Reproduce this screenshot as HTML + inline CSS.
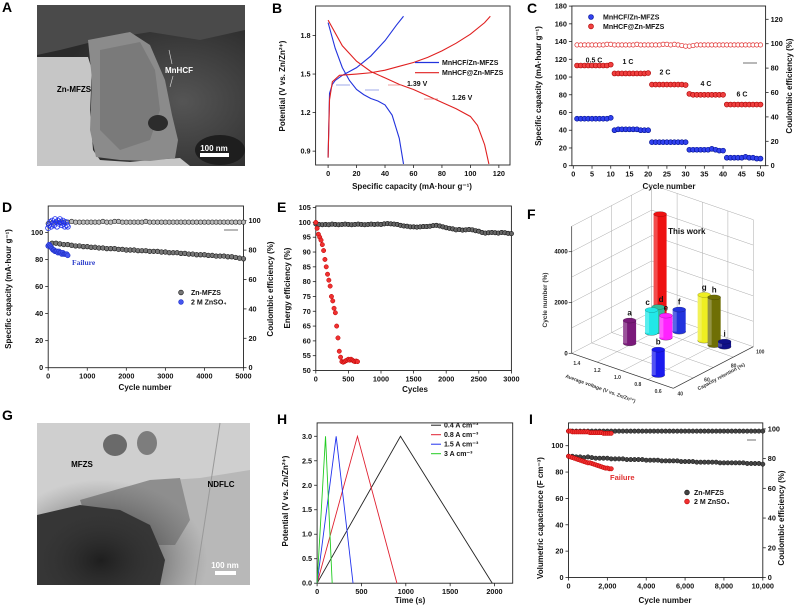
<!DOCTYPE html>
<html><head><meta charset="utf-8"><style>
html,body{margin:0;padding:0;background:#fff;}
svg{display:block;font-family:"Liberation Sans",Arial,sans-serif;}
text{font-weight:bold;}
</style></head><body>
<svg id="fig" width="797" height="608" viewBox="0 0 797 608" xmlns="http://www.w3.org/2000/svg">
<defs>
<radialGradient id="gA" cx="0.7" cy="0.6" r="0.6"><stop offset="0" stop-color="#555"/><stop offset="1" stop-color="#2a2a2a"/></radialGradient>
<radialGradient id="gG" cx="0.3" cy="0.85" r="0.5"><stop offset="0" stop-color="#1e1e1e"/><stop offset="1" stop-color="#555" stop-opacity="0"/></radialGradient>
</defs>
</svg>
<script>
// ---------- data ----------
const bCap = [0,1,3,5,10,15,20,30,40,48,53];
const bBlueCh = [0.85,1.35,1.42,1.45,1.49,1.52,1.55,1.64,1.76,1.88,1.95];
const bDisCap = [0,5,10,15,20,25,30,35,40,45,50,53];
const bBlueDis = [1.9,1.7,1.55,1.45,1.38,1.34,1.31,1.29,1.26,1.18,1.0,0.8];
const bRedChCap = [0,1,3,8,20,30,40,50,60,70,80,90,100,110,114];
const bRedCh = [0.85,1.3,1.44,1.49,1.5,1.51,1.53,1.56,1.59,1.63,1.68,1.74,1.81,1.9,1.95];
const bRedDisCap = [0,10,20,30,40,50,60,70,80,90,100,105,110,113];
const bRedDis = [1.92,1.72,1.6,1.52,1.47,1.42,1.38,1.33,1.28,1.23,1.17,1.1,0.95,0.8];

const cRed = [113,113,113,113,113,113,113,113,113,114,104,104,104,104,104,104,104,104,104,104.5,91.5,91.5,91.5,91.5,91.5,91.5,91.5,91.5,91.5,91,81,80,80,80,80,80,80,80,80,80,69,69,69,69,69,69,69,69,69,69];
const cBlue = [53,53,53,53,53,53,53,53,53,54,40,41,41,41,41,41,41,40,40,40,26.5,26.5,26.5,26.5,26.5,26.5,26.5,26.5,26.5,26.5,18,18,18,18,18,18,19,18,17,17,9,9,9,9,9,10,9,9,8,8];
const cCE = [99,99,99,99,99,99,99,99,99.5,99.5,99,99,99,99,99,99,99.5,99,99,99,99,99,99,99.5,99.5,99,99.5,99,98.5,98,98,98.5,99,99,99,99,99,99,99,99,99,99,99,99,99,99,99,99,99,99];
const cRates = ['0.5 C','1 C','2 C','4 C','6 C'];

const dCap = [90,92,92,91.5,91,91,90.5,90,90,89.5,89.5,89,89,88.5,88.5,88,88,88,87.5,87.5,87,87,87,86.5,86.5,86.5,86,86,86,85.5,85.5,85,85,85,84.5,84.5,84,84,83.5,83.5,83.5,83,83,82.5,82.5,82.5,82,82,81.5,81,80.5];
const dCE = [98,98.5,99,99,99,99,99.5,99,99,99,99,99,99,99,99.5,99,99,99.5,99.5,99,99,99,99,99,99,99.5,99,99,99,99,99,99,99,99,99,99,99,99,99,99,99,99,99,99,99,99,99,99,99,99,99];
const dBlueCap = [90,91,90,89,88,87,87,86,86,86,85,86,85,85,84,85,84,84,84,84,83];
const dBlueCE = [95,97,99,96,100,98,97,101,99,96,100,98,101,99,97,100,98,96,99,97,96];

const eBlack = [99.5,99.3,99.2,99.3,99.2,99.4,99.3,99.2,99.3,99.4,99.3,99.2,99.3,99.4,99.3,99.2,99.3,99.4,99.3,99.4,99.3,99.5,99.6,99.5,99.4,99.3,99.0,98.8,98.7,98.5,98.5,98.4,98.5,98.6,98.6,98.7,98.9,99.0,98.8,98.5,98.2,98.0,97.8,97.5,97.6,97.4,97.5,97.6,97.5,97.2,97.0,96.6,96.4,96.5,96.6,96.5,96.4,96.6,96.5,96.3,96.2];
const eRedCyc = [0,20,40,60,80,100,120,140,160,180,200,220,240,260,280,300,320,340,360,380,400,420,440,460,480,500,520,540,560,580,600,620,640];
const eRed = [100,98,96,95,94,92.5,90.5,87.5,85,82.5,80.5,78.5,75,73.5,71,69.5,65,61,56.5,54.5,53,52.8,53,53.3,53.5,53.8,53.5,53.8,53.5,53.2,53,53.2,53];

const hLabels = ['0.4 A cm\u207B\u00B3','0.8 A cm\u207B\u00B3','1.5 A cm\u207B\u00B3','3 A cm\u207B\u00B3'];
const hPeak = [940,455,215,95];
const hEnd = [1975,900,405,170];
const hVmax = [3.0,3.0,3.0,3.0];

const iCap = [92,92,91.5,91.5,91,91.5,91,90.5,90.5,90.5,90.5,90,90,90,90,89.5,89.5,89.5,89.5,89.5,89,89,89,89,88.5,88.5,88.5,88.5,88.5,88,88,88,88,87.5,87.5,87.5,87.5,87.5,87.5,87,87,87,87,87,87,87,86.5,86.5,86.5,86.5,86];
const iCE = [98.5,98.5,98.5,98.5,98.5,98.5,98.5,98.5,98.5,98.5,98.5,98.5,98.5,98.5,98.5,98.5,98.5,98.5,98.5,98.5,98.5,98.5,98.5,98.5,98.5,98.5,98.5,98.5,98.5,98.5,98.5,98.5,98.5,98.5,98.5,98.5,98.5,98.5,98.5,98.5,98.5,98.5,98.5,98.5,98.5,98.5,98.5,98.5,98.5,98.5,98.5];
const iRedCap = [92,91.5,91,90.5,90,89.5,89,88.5,88,87.5,87,87,86.5,86,85.5,85,84.5,84,83.5,83,83,82.5,82.5];
const iRedCE = [98.5,98.5,98,98,98,98,98,98,98,98,98,97.5,97.5,97.5,97.5,97.5,97.5,97.5,97,97,97,97,97];

const fNames = ['a','b','c','d','This work','e','f','g','h','i'];
const fVoltage = [1.27,0.74,1.26,1.24,1.26,1.12,1.11,0.86,0.75,0.67];
const fRetention = [65.9,47,81.6,85,88,81.7,90.9,90.6,89.7,91.4];
const fCycles = [900,1000,900,950,4500,870,870,1800,1880,200];
const fColors = ['#7a1a7a','#1a1aee','#22e8e8','#33bb99','#ee1111','#ff22ff','#2233dd','#eeee22','#6f6f05','#111188'];

// ---------- helpers ----------
const NS='http://www.w3.org/2000/svg';
const svg=document.getElementById('fig');
function mk(tag,a,p){const e=document.createElementNS(NS,tag);for(const k in a)e.setAttribute(k,a[k]);(p||svg).appendChild(e);return e;}
function T(x,y,s,size,anchor,fill,rot){const e=mk('text',{x:x,y:y,'font-size':size,'text-anchor':anchor||'middle',fill:fill||'#111'});if(rot)e.setAttribute('transform','rotate('+rot+' '+x+' '+y+')');e.textContent=s;return e;}
function G(name){const g=mk('g',{});return g;}
function frame(g,x0,y0,x1,y1){const r=mk('rect',{x:x0,y:y0,width:x1-x0,height:y1-y0,fill:'none',stroke:'#222','stroke-width':0.9},g);}
function xTicks(g,sc,vals,labs,y1){vals.forEach((v,i)=>{mk('line',{x1:sc(v),x2:sc(v),y1:y1,y2:y1+3,stroke:'#222','stroke-width':0.8},g);const t=T(sc(v),y1+11,labs[i],7.3,'middle','#111');});}
function yTicks(g,sc,vals,labs,x,side){vals.forEach((v,i)=>{const d=side==='r'?1:-1;mk('line',{x1:x,x2:x+3*d,y1:sc(v),y2:sc(v),stroke:'#222','stroke-width':0.8},g);const t=T(x+5*d,sc(v)+2.5,labs[i],7.3,side==='r'?'start':'end','#111');});}
function poly(g,xs,ys,sx,sy,col,w){return mk('polyline',{points:xs.map((v,i)=>sx(v)+','+sy(ys[i])).join(' '),fill:'none',stroke:col,'stroke-width':w||1.1},g);}
function dot(g,x,y,r,fill,stroke,sw){return mk('circle',{cx:x,cy:y,r:r,fill:fill,stroke:stroke,'stroke-width':sw||0.6},g);}
function letter(s,x,y){const t=T(x,y,s,14,'start','#000');}
function rng(a,b,s){const r=[];for(let v=a;v<=b+1e-9;v+=s)r.push(+v.toFixed(4));return r;}

// ---------- Panel A (TEM) ----------
(function(){const g=G('panel-a-tem-image');
mk('rect',{x:37,y:5,width:208,height:161,fill:'url(#gA)'},g);
mk('polygon',{points:'37,5 245,5 245,30 200,40 150,32 100,40 60,50 37,55',fill:'#4a4a4a'},g);
mk('polygon',{points:'37,57 88,57 92,70 90,110 93,150 100,160 130,162 150,160 180,158 190,166 37,166',fill:'#c6c6c6'},g);
mk('polygon',{points:'88,40 130,32 150,45 165,80 172,115 178,140 175,158 150,161 120,160 96,157 90,130 92,80',fill:'#8b8b8b'},g);
mk('polygon',{points:'100,50 140,42 155,70 160,110 150,140 120,150 100,130',fill:'#7a7a7a'},g);
mk('ellipse',{cx:158,cy:123,rx:10,ry:8,fill:'#2c2c2c'},g);
mk('ellipse',{cx:220,cy:150,rx:25,ry:15,fill:'#1e1e1e'},g);
T(74,92,'Zn-MFZS',8,'middle','#000');T(179,73,'MnHCF',8,'middle','#fff');
mk('line',{x1:169,y1:50,x2:172,y2:64,stroke:'#ddd','stroke-width':0.6},g);mk('line',{x1:170,y1:87,x2:173,y2:76,stroke:'#ddd','stroke-width':0.6},g);
T(214,151,'100 nm',8,'middle','#fff');mk('rect',{x:200,y:153,width:29,height:4,fill:'#fff'},g);})();
letter('A',2,12);

// ---------- Panel B ----------
(function(){const g=G('panel-b-charge-discharge');
const sx=v=>328.1+v*1.423, sy=v=>35.5+(1.8-v)*128.5;
frame(g,315.6,6,510,165);
xTicks(g,sx,[0,20,40,60,80,100,120],['0','20','40','60','80','100','120'],165);
yTicks(g,sy,[0.9,1.2,1.5,1.8],['0.9','1.2','1.5','1.8'],315.6,'l');
let l=poly(g,bCap,bBlueCh,sx,sy,'#2233dd');
l=poly(g,bDisCap,bBlueDis,sx,sy,'#2233dd');
l=poly(g,bRedChCap,bRedCh,sx,sy,'#e02020');
l=poly(g,bRedDisCap,bRedDis,sx,sy,'#e02020');
mk('line',{x1:415,y1:62.5,x2:439,y2:62.5,stroke:'#2233dd','stroke-width':1.2},g);T(442,65,'MnHCF/Zn-MFZS',7,'start');
mk('line',{x1:415,y1:72.7,x2:439,y2:72.7,stroke:'#e02020','stroke-width':1.2},g);T(442,75,'MnHCF@Zn-MFZS',7,'start');
T(407,86,'1.39 V',7,'start');T(452,100,'1.26 V',7,'start');
[[336,85],[365,90],[388,85],[424,99]].forEach(p=>{mk('line',{x1:p[0],y1:p[1],x2:p[0]+14,y2:p[1],stroke:p[0]>380?'#e06060':'#6070dd','stroke-width':0.6},g);});
T(285,86,'Potential (V vs. Zn/Zn\u00B2\u207A)',8,'middle','#111',-90);
T(412,189,'Specific capacity (mA\u00B7hour g\u207B\u00B9)',8,'middle');})();
letter('B',272,13);

// ---------- Panel C ----------
(function(){const g=G('panel-c-rate');
const sx=v=>573.3+v*3.744, sy=v=>165.7-v*(159.6/180), sr=v=>165.7-v*(146.4/120);
frame(g,571.9,6,765.6,165.7);
xTicks(g,sx,rng(0,50,5),rng(0,50,5).map(String),165.7);
yTicks(g,sy,rng(0,180,20),rng(0,180,20).map(String),571.9,'l');
yTicks(g,sr,rng(0,120,20),rng(0,120,20).map(String),765.6,'r');
cCE.forEach((v,i)=>{const c=dot(g,sx(i+1),sr(v),2.2,'#fff','#e03030',0.7);});
cRed.forEach((v,i)=>{const c=dot(g,sx(i+1),sy(v),2.5,'#f04040','#a00');});
cBlue.forEach((v,i)=>{const c=dot(g,sx(i+1),sy(v),2.5,'#3040ee','#001090');});
const lp=[[594,62.5],[628,64],[665,74.4],[706,86],[742,96.3]];
cRates.forEach((s,i)=>T(lp[i][0],lp[i][1],s,7,'middle'));
mk('line',{x1:743,y1:63,x2:757,y2:63,stroke:'#333','stroke-width':0.7},g);
dot(g,591,17,2.5,'#3040ee','#001090');T(603,19.5,'MnHCF/Zn-MFZS',7,'start');
dot(g,591,26.4,2.5,'#f04040','#a00');T(603,29,'MnHCF@Zn-MFZS',7,'start');
T(541,86,'Specific capacity (mA\u00B7hour g\u207B\u00B9)',8,'middle','#111',-90);
T(792,86,'Coulombic efficiency (%)',8,'middle','#111',-90);
T(669,189,'Cycle number',8,'middle');})();
letter('C',527,13);

// ---------- Panel D ----------
(function(){const g=G('panel-d-long-cycling');
const sx=v=>48.2+v*(195.3/5000), sy=v=>367.7-v*1.353, sr=v=>367.7-v*1.47;
frame(g,48.2,206,243.5,367.7);
xTicks(g,sx,rng(0,5000,1000),rng(0,5000,1000).map(String),367.7);
yTicks(g,sy,rng(0,100,20),rng(0,100,20).map(String),48.2,'l');
yTicks(g,sr,rng(0,100,20),rng(0,100,20).map(String),243.5,'r');
dCE.forEach((v,i)=>{const c=dot(g,sx(i*100),sr(v),2.2,'#bbb','#222',0.6);});
dCap.forEach((v,i)=>{const c=dot(g,sx(i*100),sy(v),2.3,'#777','#111',0.6);});
dBlueCE.forEach((v,i)=>{const c=dot(g,sx(i*25),sr(v),2.6,'none','#2233ee',0.8);});
dBlueCap.forEach((v,i)=>{const c=dot(g,sx(i*25),sy(v),2.4,'#4455ee','#2233cc',0.6);});
mk('line',{x1:224,y1:230,x2:238,y2:230,stroke:'#333','stroke-width':0.7},g);
T(72,265,'Failure',7.5,'start','#3344cc').setAttribute('font-family','Liberation Serif');
dot(g,181,292.5,2.4,'#777','#111');T(191,295,'Zn-MFZS',7,'start');
dot(g,181,302,2.4,'#4455ee','#2233cc');T(191,304.5,'2 M ZnSO\u2084',7,'start');
T(11,289,'Specific capacity (mA\u00B7hour g\u207B\u00B9)',8,'middle','#111',-90);
T(273,289,'Coulombic efficiency (%)',8,'middle','#111',-90);
T(145,390,'Cycle number',8,'middle');})();
letter('D',2,212);

// ---------- Panel E ----------
(function(){const g=G('panel-e-energy-efficiency');
const sx=v=>315.8+v*(195.6/3000), sy=v=>370.5-(v-50)*(162.9/55);
frame(g,315.8,206,511.4,370.5);
xTicks(g,sx,rng(0,3000,500),rng(0,3000,500).map(String),370.5);
yTicks(g,sy,rng(50,105,5),rng(50,105,5).map(String),315.8,'l');
eBlack.forEach((v,i)=>{const c=dot(g,sx(i*50),sy(v),2.2,'#666','#111',0.6);});
eRed.forEach((v,i)=>{const c=dot(g,sx(eRedCyc[i]),sy(v),2.2,'#f03030','#b00',0.5);});
T(290,288,'Energy efficiency (%)',8,'middle','#111',-90);
T(415,392,'Cycles',8,'middle');})();
letter('E',277,212);

// ---------- Panel F (3D bars) ----------
(function(){const g=G('panel-f-3d-comparison');
const O=[571.7,353.3],A=[101.6,35],B=[80,-41.6],zs=127/5000;
const P=(u,v,z)=>[O[0]+u*A[0]+v*B[0],O[1]+u*A[1]+v*B[1]-z*zs];
const uV=V=>1.5-V, vR=R=>(R-40)/60;
const L=(p,q,c,w)=>mk('line',{x1:p[0],y1:p[1],x2:q[0],y2:q[1],stroke:c||'#aaa','stroke-width':w||0.5},g);
[0,0.25,0.5,0.75,1].forEach(t=>{L(P(t,0,0),P(t,1,0));L(P(0,t,0),P(1,t,0));L(P(0,t,0),P(0,t,5000));L(P(t,1,0),P(t,1,5000));});
[1000,2000,3000,4000,5000].forEach(z=>{L(P(0,0,z),P(0,1,z));L(P(0,1,z),P(1,1,z));});
L(P(0,0,0),P(0,0,5000),'#333',0.7);L(P(0,0,0),P(1,0,0),'#333',0.7);L(P(1,0,0),P(1,1,0),'#333',0.7);
[0,2000,4000].forEach(z=>{const p=P(0,0,z);L(p,[p[0]-3,p[1]],'#333',0.7);const t=T(p[0]-4,p[1]+2,String(z),6,'end');});
[1.4,1.2,1.0,0.8,0.6].forEach(V=>{const p=P(uV(V),0,0);T(p[0]-5,p[1]+8,V.toFixed(1),5,'middle','#333');});
[40,60,80,100].forEach(R=>{const p=P(1,vR(R),0);T(p[0]+7,p[1]+7,String(R),5,'middle','#333');});
T(600,390,'Average voltage (V vs. Zn/Zn\u00B2\u207A)',5,'middle','#333',20);
T(722,378,'Capacity retention (%)',5,'middle','#333',-28);
T(547,300,'Cycle number (%)',6.5,'middle','#333',-90);
const idx=fNames.map((n,i)=>i).sort((a,b)=>P(uV(fVoltage[a]),vR(fRetention[a]),0)[1]-P(uV(fVoltage[b]),vR(fRetention[b]),0)[1]);
idx.forEach(i=>{const b=P(uV(fVoltage[i]),vR(fRetention[i]),0),t=P(uV(fVoltage[i]),vR(fRetention[i]),fCycles[i]);
const bg=mk('g',{},g);


mk('ellipse',{cx:b[0],cy:b[1],rx:6.5,ry:2.5,fill:fColors[i],stroke:'#222','stroke-width':0.3},bg);
mk('rect',{x:b[0]-6.5,y:t[1],width:13,height:b[1]-t[1],fill:fColors[i]},bg);
mk('rect',{x:b[0]-6.5,y:t[1],width:4,height:b[1]-t[1],fill:'#fff',opacity:0.25},bg);
mk('ellipse',{cx:t[0],cy:t[1],rx:6.5,ry:2.5,fill:fColors[i],stroke:'#000','stroke-opacity':0.4,'stroke-width':0.4},bg);
if(fNames[i]==='This work')T(t[0]+8,t[1]+20,'This work',8,'start');else T(t[0]+(fNames[i]==='c'?-4:fNames[i]==='d'?3:0),t[1]-5,fNames[i],8,'middle');});})();
letter('F',527,219);

// ---------- Panel G (TEM) ----------
(function(){const g=G('panel-g-tem-image');
mk('rect',{x:37,y:423,width:213,height:162,fill:'#b8b8b8'},g);
mk('polygon',{points:'37,423 250,423 250,470 200,478 170,480 120,490 80,520 37,535',fill:'#cfcfcf'},g);
mk('polygon',{points:'80,500 150,480 180,478 190,520 175,545 120,545 90,530',fill:'#8e8e8e'},g);
mk('polygon',{points:'37,515 80,505 120,510 150,525 165,560 160,585 37,585',fill:'#303030'},g);
mk('rect',{x:37,y:423,width:213,height:162,fill:'url(#gG)'},g);
mk('ellipse',{cx:115,cy:445,rx:12,ry:11,fill:'#6a6a6a'},g);mk('ellipse',{cx:147,cy:443,rx:10,ry:12,fill:'#7d7d7d'},g);
mk('line',{x1:220,y1:423,x2:195,y2:585,stroke:'#999','stroke-width':1},g);
T(82,467,'MFZS',8,'middle','#000');T(221,487,'NDFLC',8,'middle','#000');
T(225,568,'100 nm',8,'middle','#fff');mk('rect',{x:215,y:571,width:21,height:4,fill:'#fff'},g);})();
letter('G',2,420);

// ---------- Panel H ----------
(function(){const g=G('panel-h-gcd');
const sx=v=>317.1+v*0.0887, sy=v=>583.2-v*48.97;
frame(g,317.1,422.9,512.7,583.2);
xTicks(g,sx,rng(0,2000,500),rng(0,2000,500).map(String),583.2);
yTicks(g,sy,rng(0,3,0.5),rng(0,3,0.5).map(v=>v.toFixed(1)),317.1,'l');
const cols=['#222','#e02030','#2233ee','#22cc22'];
hPeak.forEach((p,i)=>{const l=poly(g,[0,p,hEnd[i]],[0,hVmax[i],0],sx,sy,cols[i],0.9);});
hLabels.forEach((s,i)=>{const y=425.2+i*9.5;mk('line',{x1:431,y1:y,x2:441,y2:y,stroke:cols[i],'stroke-width':1},g);T(444,y+2.5,s,7,'start');});
T(288,501,'Potential (V vs. Zn/Zn\u00B2\u207A)',8,'middle','#111',-90);
T(410,603,'Time (s)',8,'middle');})();
letter('H',277,424);

// ---------- Panel I ----------
(function(){const g=G('panel-i-volumetric-capacitance');
const sx=v=>568.5+v*0.01943, sy=v=>577.5-v*1.318, sr=v=>577.5-v*1.486;
frame(g,568.5,422.9,762.8,577.5);
xTicks(g,sx,rng(0,10000,2000),['0','2,000','4,000','6,000','8,000','10,000'],577.5);
yTicks(g,sy,rng(0,100,20),rng(0,100,20).map(String),568.5,'l');
yTicks(g,sr,rng(0,100,20),rng(0,100,20).map(String),762.8,'r');
iCE.forEach((v,i)=>{const c=dot(g,sx(i*200),sr(v),2.2,'#444','#111',0.5);});
iCap.forEach((v,i)=>{const c=dot(g,sx(i*200),sy(v),2.2,'#444','#111',0.5);});
iRedCE.forEach((v,i)=>{const c=dot(g,sx(i*100),sr(v),2.2,'#f03030','#b00',0.5);});
iRedCap.forEach((v,i)=>{const c=dot(g,sx(i*100),sy(v),2.2,'#f03030','#b00',0.5);});
mk('line',{x1:747,y1:440,x2:756,y2:440,stroke:'#333','stroke-width':0.7},g);
T(610,480,'Failure',7.5,'start','#e03030');
dot(g,687,492.5,2.4,'#444','#111');T(694,495,'Zn-MFZS',7,'start');
dot(g,687,501.5,2.4,'#f03030','#b00');T(694,504,'2 M ZnSO\u2084',7,'start');
T(543,518,'Volumetric capacitence (F cm\u207B\u00B3)',8,'middle','#111',-90);
T(784,518,'Coulombic efficiency (%)',8,'middle','#111',-90);
T(665,603,'Cycle number',8,'middle');})();
letter('I',529,424);
</script>
</body></html>
